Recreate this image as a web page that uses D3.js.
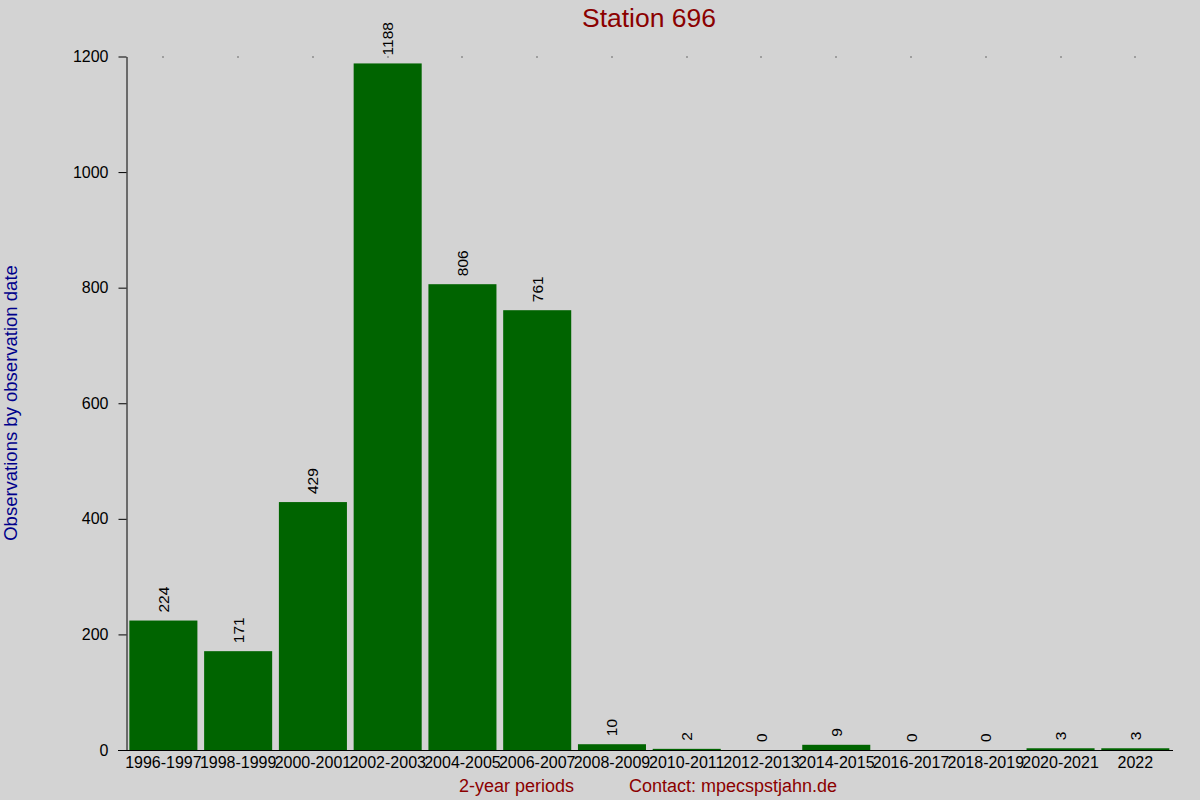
<!DOCTYPE html>
<html>
<head>
<meta charset="utf-8">
<script src="https://cdn.jsdelivr.net/npm/d3@7"></script>
<style>
  html, body { margin: 0; padding: 0; background: #d3d3d3; }
  svg { display: block; font-family: "Liberation Sans", Arial, sans-serif; }
</style>
</head>
<body>
<div id="chart"></div>
<script>
// Data
const periods = ["1996-1997", "1998-1999", "2000-2001", "2002-2003", "2004-2005", "2006-2007",
                 "2008-2009", "2010-2011", "2012-2013", "2014-2015", "2016-2017", "2018-2019",
                 "2020-2021", "2022"];
const counts = [224, 171, 429, 1188, 806, 761, 10, 2, 0, 9, 0, 0, 3, 3];
const yTicks = [0, 200, 400, 600, 800, 1000, 1200];

const data = periods.map((p, i) => ({ period: p, count: counts[i] }));

const width = 1200, height = 800;
const svg = d3.select("#chart").append("svg")
    .attr("width", width)
    .attr("height", height);

svg.append("rect")
    .attr("width", width)
    .attr("height", height)
    .attr("fill", "#d3d3d3");

// Scales
const x = d3.scaleBand()
    .domain(periods)
    .range([126, 1172.7])
    .paddingInner(0.09)
    .paddingOuter(0.045);

const y = d3.scaleLinear()
    .domain([0, 1200])
    .range([750, 56.5]);

// little dots along the top (grid remnants)
svg.selectAll("rect.dot")
    .data(data)
    .enter()
    .append("rect")
    .attr("class", "dot")
    .attr("x", d => Math.round(x(d.period) + x.bandwidth() / 2) - 0.5)
    .attr("y", Math.round(y(1200)) - 0.5)
    .attr("width", 1)
    .attr("height", 1)
    .attr("fill", "#000");

// Bars
svg.selectAll("rect.bar")
    .data(data)
    .enter()
    .append("rect")
    .attr("class", "bar")
    .attr("x", d => x(d.period))
    .attr("y", d => y(d.count))
    .attr("width", x.bandwidth())
    .attr("height", d => y(0) - y(d.count))
    .attr("fill", "#006400");

// Value labels (rotated)
svg.selectAll("text.val")
    .data(data)
    .enter()
    .append("text")
    .attr("class", "val")
    .attr("transform", d => `translate(${x(d.period) + x.bandwidth() / 2 + 5.5},${y(d.count) - 8}) rotate(-90)`)
    .attr("text-anchor", "start")
    .style("font-size", "15.5px")
    .attr("fill", "#000")
    .text(d => d.count);

// Y axis
const yAxis = svg.append("g")
    .attr("transform", "translate(126.5,0)")
    .call(d3.axisLeft(y).tickValues(yTicks).tickFormat(d3.format("d"))
        .tickSize(8).tickPadding(10).tickSizeOuter(0));
yAxis.select(".domain").attr("stroke", "#000");
yAxis.selectAll(".tick line").attr("stroke", "#000");
yAxis.selectAll("text")
    .style("font-family", "'Liberation Sans', Arial, sans-serif")
    .style("font-size", "16px")
    .attr("fill", "#000");

// X axis
const xAxis = svg.append("g")
    .attr("transform", "translate(0,750.5)")
    .call(d3.axisBottom(x).tickSize(0).tickPadding(6).tickSizeOuter(0));
xAxis.select(".domain")
    .attr("d", "M118,0H1173")
    .attr("stroke", "#000");
xAxis.selectAll("text")
    .style("font-family", "'Liberation Sans', Arial, sans-serif")
    .style("font-size", "16px")
    .attr("fill", "#000");

// Title
svg.append("text")
    .attr("x", 649)
    .attr("y", 27)
    .attr("text-anchor", "middle")
    .style("font-size", "26.5px")
    .attr("fill", "#8b0000")
    .text("Station 696");

// Y axis title
svg.append("text")
    .attr("transform", "translate(17,403) rotate(-90)")
    .attr("text-anchor", "middle")
    .style("font-size", "18.5px")
    .attr("fill", "#00008b")
    .text("Observations by observation date");

// X axis title and contact
svg.append("text")
    .attr("x", 516.5)
    .attr("y", 792)
    .attr("text-anchor", "middle")
    .style("font-size", "18px")
    .attr("fill", "#8b0000")
    .text("2-year periods");

svg.append("text")
    .attr("x", 733)
    .attr("y", 792)
    .attr("text-anchor", "middle")
    .style("font-size", "18px")
    .attr("fill", "#8b0000")
    .text("Contact: mpecspstjahn.de");
</script>
</body>
</html>
